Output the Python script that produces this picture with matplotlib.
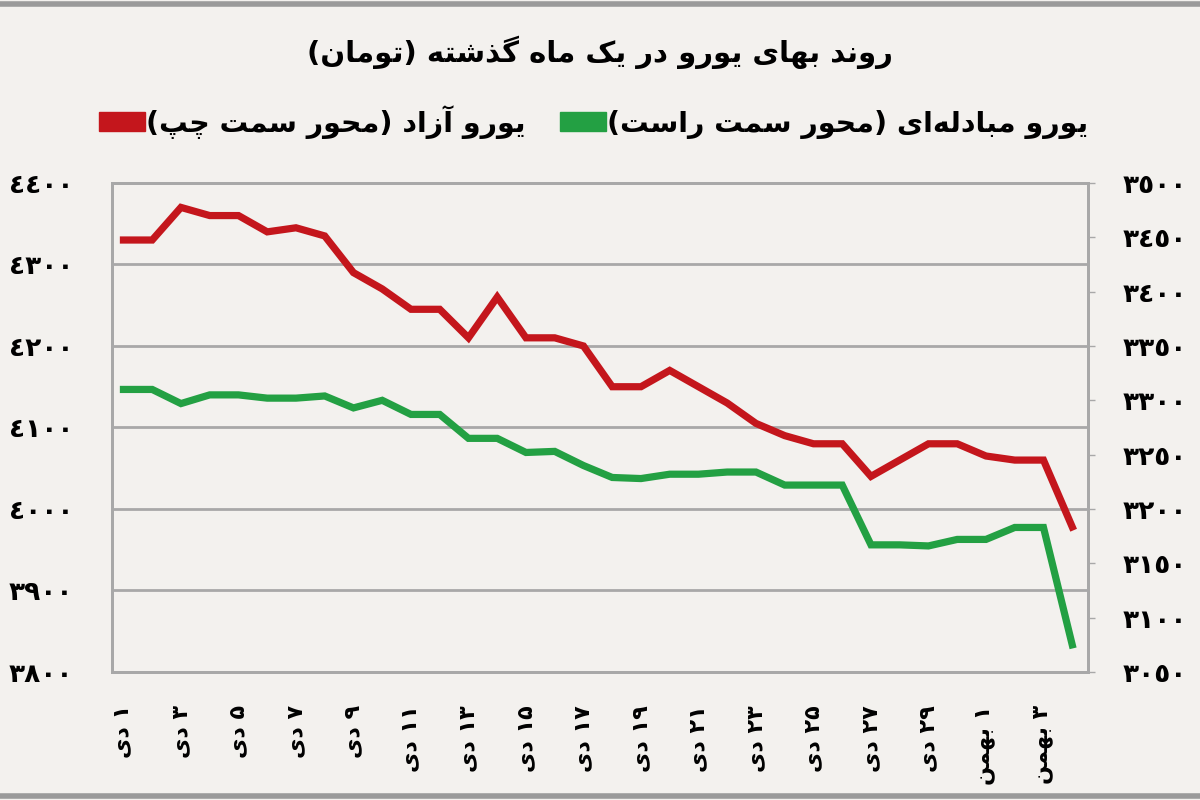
import re
import matplotlib
matplotlib.use("Agg")
import matplotlib.pyplot as plt
import matplotlib.patches as mpatches
from matplotlib.ticker import FixedLocator, FuncFormatter

# dates, 1 dey .. 4 bahman
dates = ['۱ دی', '۲ دی', '۳ دی', '۴ دی', '۵ دی', '۶ دی', '۷ دی', '۸ دی', '۹ دی', '۱۰ دی',
         '۱۱ دی', '۱۲ دی', '۱۳ دی', '۱۴ دی', '۱۵ دی', '۱۶ دی', '۱۷ دی', '۱۸ دی', '۱۹ دی', '۲۰ دی',
         '۲۱ دی', '۲۲ دی', '۲۳ دی', '۲۴ دی', '۲۵ دی', '۲۶ دی', '۲۷ دی', '۲۸ دی', '۲۹ دی', '۳۰ دی',
         '۱ بهمن', '۲ بهمن', '۳ بهمن', '۴ بهمن']
free_euro = [4330, 4330, 4370, 4360, 4360, 4340, 4345, 4335, 4290, 4270,
             4245, 4245, 4210, 4260, 4210, 4210, 4200, 4150, 4150, 4170,
             4150, 4130, 4105, 4090, 4080, 4080, 4040, 4060, 4080, 4080,
             4065, 4060, 4060, 3978]
exchange_euro = [3310, 3310, 3297, 3305, 3305, 3302, 3302, 3304, 3293, 3300,
                 3287, 3287, 3265, 3265, 3252, 3253, 3240, 3229, 3228, 3232,
                 3232, 3234, 3234, 3222, 3222, 3222, 3167, 3167, 3166, 3172,
                 3172, 3183, 3183, 3075]
left_ticks = [3800, 3900, 4000, 4100, 4200, 4300, 4400]
right_ticks = [3050, 3100, 3150, 3200, 3250, 3300, 3350, 3400, 3450, 3500]

title = 'روند بهای یورو در یک ماه گذشته (تومان)'
label_free = 'یورو آزاد (محور سمت چپ)'
label_exch = 'یورو مبادله\u200cای (محور سمت راست)'

# --- poor man's arabic shaping (matplotlib has no bidi / shaping) ---
FORMS = {
    '\u0627': ('\uFE8D', '\uFE8E'),
    '\u0622': ('\uFE81', '\uFE82'),
    '\u062F': ('\uFEA9', '\uFEAA'),
    '\u0630': ('\uFEAB', '\uFEAC'),
    '\u0631': ('\uFEAD', '\uFEAE'),
    '\u0632': ('\uFEAF', '\uFEB0'),
    '\u0648': ('\uFEED', '\uFEEE'),
    '\u0628': ('\uFE8F', '\uFE90', '\uFE91', '\uFE92'),
    '\u062A': ('\uFE95', '\uFE96', '\uFE97', '\uFE98'),
    '\u062D': ('\uFEA1', '\uFEA2', '\uFEA3', '\uFEA4'),
    '\u0633': ('\uFEB1', '\uFEB2', '\uFEB3', '\uFEB4'),
    '\u0634': ('\uFEB5', '\uFEB6', '\uFEB7', '\uFEB8'),
    '\u0644': ('\uFEDD', '\uFEDE', '\uFEDF', '\uFEE0'),
    '\u0645': ('\uFEE1', '\uFEE2', '\uFEE3', '\uFEE4'),
    '\u0646': ('\uFEE5', '\uFEE6', '\uFEE7', '\uFEE8'),
    '\u0647': ('\uFEE9', '\uFEEA', '\uFEEB', '\uFEEC'),
    '\u06CC': ('\uFBFC', '\uFBFD', '\uFBFE', '\uFBFF'),
    '\u06A9': ('\uFB8E', '\uFB8F', '\uFB90', '\uFB91'),
    '\u06AF': ('\uFB92', '\uFB93', '\uFB94', '\uFB95'),
    '\u0686': ('\uFB7A', '\uFB7B', '\uFB7C', '\uFB7D'),
    '\u067E': ('\uFB56', '\uFB57', '\uFB58', '\uFB59'),
}
MIRROR = {'(': ')', ')': '('}


def shape(s):
    s = s.replace('\u064A', '\u06CC').replace('\u0643', '\u06A9')
    out = []
    for i, ch in enumerate(s):
        if ch not in FORMS:
            if ch != '\u200c':
                out.append(ch)
            continue
        prev = s[i - 1] if i > 0 else ''
        nxt = s[i + 1] if i + 1 < len(s) else ''
        join_prev = prev in FORMS and len(FORMS[prev]) == 4
        join_next = len(FORMS[ch]) == 4 and nxt in FORMS
        f = FORMS[ch]
        if len(f) == 2:
            out.append(f[1] if join_prev else f[0])
        elif join_prev and join_next:
            out.append(f[3])
        elif join_prev:
            out.append(f[1])
        elif join_next:
            out.append(f[2])
        else:
            out.append(f[0])
    return ''.join(out)


def rtl(s):
    vis = ''.join(MIRROR.get(c, c) for c in shape(s)[::-1])
    return re.sub(r'[0-9\u0660-\u0669\u06F0-\u06F9]+', lambda m: m.group(0)[::-1], vis)


def arabic_digits(v, pos=None):
    return str(int(v)).translate(str.maketrans('0123456789', '٠١٢٣٤٥٦٧٨٩'))


plt.rcParams['font.family'] = ['DejaVu Sans']
bg = '#f3f1ee'
red = '#c4161c'
green = '#23a043'
grid = '#a8a8a8'

fig = plt.figure(figsize=(12, 8), dpi=100, facecolor=bg)
ax = fig.add_axes([0.0933, 0.16, 0.8134, 0.6113])
ax.set_facecolor(bg)
ax2 = ax.twinx()

x = list(range(len(dates)))
ax.plot(x, free_euro, color=red, lw=5.2, solid_joinstyle='miter', zorder=3)
ax2.plot(x, exchange_euro, color=green, lw=5.2, solid_joinstyle='miter', zorder=3)

ax.set_xlim(-0.4, len(dates) - 0.45)
ax.set_ylim(3800, 4400)
ax2.set_ylim(3050, 3500)

ax.yaxis.set_major_locator(FixedLocator(left_ticks))
ax.yaxis.set_major_formatter(FuncFormatter(arabic_digits))
ax2.yaxis.set_major_locator(FixedLocator(right_ticks))
ax2.yaxis.set_major_formatter(FuncFormatter(arabic_digits))
ax.grid(axis='y', color=grid, lw=2)
ax.set_axisbelow(True)

ax.set_xticks(x[::2])
ax.set_xticklabels([rtl(d) for d in dates[::2]], rotation=90, va='top', ha='center',
                   fontsize=16, fontweight='bold')
ax.tick_params(axis='x', length=0, pad=24)
ax.tick_params(axis='y', length=0, pad=28, labelsize=19)
ax2.tick_params(axis='y', length=5, width=1, color=grid, pad=20, labelsize=19)
for t in ax.get_yticklabels() + ax2.get_yticklabels():
    t.set_fontweight('bold')

for a in (ax, ax2):
    for sp in a.spines.values():
        sp.set_color(grid)
        sp.set_linewidth(2)

fig.text(0.5, 0.935, rtl(title), ha='center', va='center', fontsize=21, fontweight='bold')

handles = [mpatches.Patch(color=red, label=rtl(label_free)),
           mpatches.Patch(color=green, label=rtl(label_exch))]
fig.legend(handles=handles, ncol=2, loc='center', bbox_to_anchor=(0.495, 0.848),
           frameon=False, handlelength=1.6, handleheight=0.65, handletextpad=0.05,
           columnspacing=1.2, prop={'size': 20.5, 'weight': 'bold'})

fig.add_artist(plt.Line2D([0, 1], [0.995, 0.995], color='#9a9a9a', lw=4))
fig.add_artist(plt.Line2D([0, 1], [0.005, 0.005], color='#9a9a9a', lw=4))

fig.savefig('out.png', dpi=100, facecolor=bg)
